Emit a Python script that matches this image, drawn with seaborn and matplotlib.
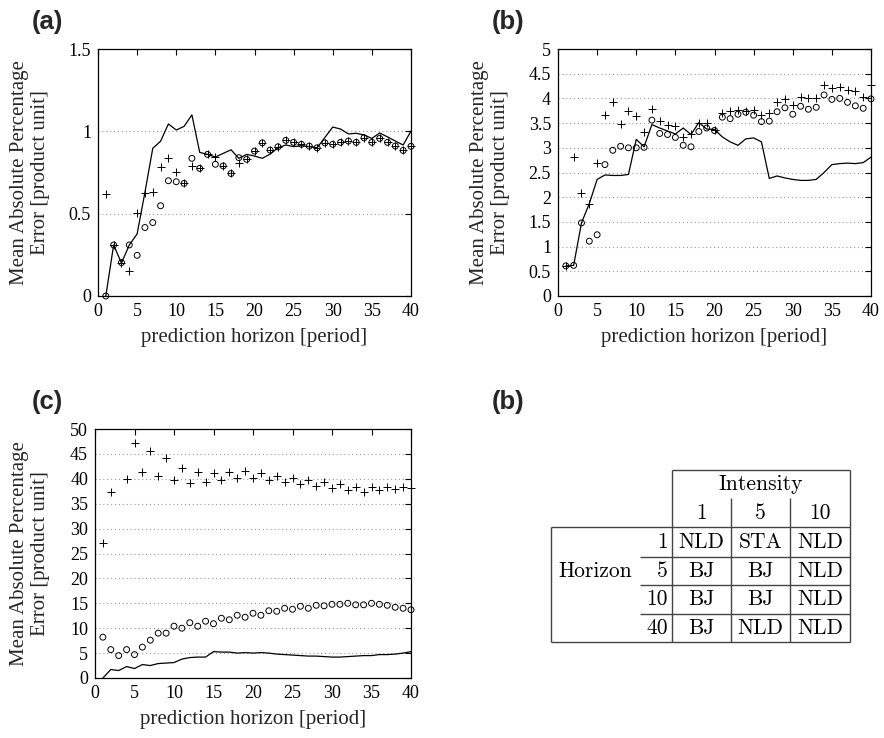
import numpy as np
import matplotlib
matplotlib.use("Agg")
import matplotlib.pyplot as plt
import seaborn as sns

# ---------------- data ----------------
horizon = list(range(1, 41))

a_line = [0.00, 0.31, 0.20, 0.31, 0.377, 0.63, 0.897, 0.94, 1.045, 1.008,
          1.03, 1.10, 0.872, 0.86, 0.844, 0.866, 0.888, 0.836, 0.86, 0.85,
          0.836, 0.862, 0.90, 0.917, 0.907, 0.913, 0.907, 0.90, 0.963, 1.026,
          1.014, 0.984, 0.988, 0.978, 0.957, 0.99, 0.966, 0.941, 0.917, 1.002]
a_circle = [0.00, 0.31, 0.203, 0.31, 0.247, 0.416, 0.446, 0.548, 0.70, 0.694,
            0.684, 0.836, 0.775, 0.86, 0.80, 0.79, 0.744, 0.84, 0.83, 0.88,
            0.93, 0.886, 0.906, 0.945, 0.933, 0.921, 0.91, 0.90, 0.93, 0.921,
            0.933, 0.941, 0.933, 0.961, 0.933, 0.957, 0.933, 0.911, 0.884, 0.909]
a_plus = [0.617, 0.31, 0.203, 0.154, 0.505, 0.627, 0.633, 0.783, 0.836, 0.755,
          0.684, 0.79, 0.775, 0.86, 0.844, 0.79, 0.744, 0.81, 0.83, 0.88,
          0.93, 0.886, 0.906, 0.945, 0.933, 0.921, 0.91, 0.90, 0.93, 0.921,
          0.933, 0.941, 0.933, 0.961, 0.933, 0.957, 0.933, 0.911, 0.884, 0.909]

b_line = [0.61, 0.62, 1.48, 1.87, 2.36, 2.45, 2.44, 2.44, 2.46, 3.17,
          3.02, 3.47, 3.40, 3.34, 3.28, 3.40, 3.27, 3.51, 3.38, 3.37,
          3.22, 3.12, 3.05, 3.18, 3.20, 3.12, 2.38, 2.43, 2.39, 2.36,
          2.34, 2.34, 2.36, 2.50, 2.66, 2.68, 2.69, 2.68, 2.70, 2.81]
b_circle = [0.61, 0.62, 1.48, 1.11, 1.24, 2.66, 2.95, 3.03, 3.00, 3.00,
            3.01, 3.56, 3.29, 3.27, 3.21, 3.05, 3.02, 3.33, 3.40, 3.35,
            3.62, 3.59, 3.68, 3.72, 3.66, 3.53, 3.54, 3.73, 3.81, 3.68,
            3.84, 3.78, 3.82, 4.07, 3.98, 4.00, 3.92, 3.85, 3.80, 3.99]
b_plus = [0.61, 2.82, 2.09, 1.87, 2.69, 3.66, 3.93, 3.49, 3.74, 3.64,
          3.32, 3.78, 3.54, 3.47, 3.44, 3.22, 3.27, 3.50, 3.50, 3.36,
          3.71, 3.74, 3.76, 3.74, 3.76, 3.66, 3.71, 3.92, 3.98, 3.86,
          4.03, 4.01, 4.00, 4.28, 4.22, 4.24, 4.17, 4.15, 4.03, 4.27]

c_line = [0.0, 1.7, 1.5, 2.3, 1.9, 2.7, 2.5, 2.9, 3.0, 3.1,
          3.8, 4.1, 4.2, 4.2, 5.3, 5.2, 5.2, 5.0, 5.1, 5.0,
          5.1, 5.0, 4.8, 4.7, 4.6, 4.5, 4.4, 4.4, 4.3, 4.2,
          4.2, 4.3, 4.4, 4.5, 4.5, 4.7, 4.7, 4.8, 5.0, 5.3]
c_circle = [8.2, 5.7, 4.5, 5.7, 4.7, 6.2, 7.6, 9.0, 9.0, 10.4,
            10.0, 11.1, 10.4, 11.4, 10.9, 12.0, 11.7, 12.6, 12.2, 13.0,
            12.6, 13.5, 13.4, 14.0, 13.8, 14.4, 14.0, 14.6, 14.5, 14.8,
            14.8, 15.0, 14.7, 14.7, 15.0, 14.8, 14.6, 14.2, 14.0, 13.7]
c_plus = [27.1, 37.3, np.nan, 39.9, 47.1, 41.3, 45.6, 40.6, 44.1, 39.8,
          42.1, 39.2, 41.3, 39.4, 41.2, 39.8, 41.4, 40.2, 41.6, 40.2,
          41.2, 39.8, 40.6, 39.4, 40.2, 39.0, 39.8, 38.6, 39.3, 38.1,
          39.0, 37.8, 38.3, 37.4, 38.3, 37.8, 38.3, 37.9, 38.4, 38.1]

x_ticks = [0, 5, 10, 15, 20, 25, 30, 35, 40]
a_yticks = [0, 0.5, 1, 1.5]
b_yticks = [0, 0.5, 1, 1.5, 2, 2.5, 3, 3.5, 4, 4.5, 5]
c_yticks = [0, 5, 10, 15, 20, 25, 30, 35, 40, 45, 50]

intensity_levels = ["1", "5", "10"]
horizon_levels = ["1", "5", "10", "40"]
table_cells = [["NLD", "STA", "NLD"],
               ["BJ", "BJ", "NLD"],
               ["BJ", "BJ", "NLD"],
               ["BJ", "NLD", "NLD"]]

# ---------------- style ----------------
sns.set_theme(style="white")
plt.rcParams["font.family"] = ["Liberation Serif", "DejaVu Serif"]
plt.rcParams["axes.edgecolor"] = "black"
plt.rcParams["axes.linewidth"] = 0.9

W, H = 884, 738
fig = plt.figure(figsize=(W / 100, H / 100), dpi=100)


def px_axes(left, top, right, bottom):
    return fig.add_axes([left / W, 1 - bottom / H, (right - left) / W, (bottom - top) / H])


def draw_panel(ax, line, circ, plus, yticks, ylim, label_x):
    sns.lineplot(x=horizon, y=line, ax=ax, color="black", linewidth=0.9)
    sns.scatterplot(x=horizon, y=circ, ax=ax, marker="o", s=18, color="black",
                    facecolors="none", edgecolor="black", linewidth=0.7,
                    clip_on=False, zorder=3)
    sns.scatterplot(x=horizon, y=plus, ax=ax, marker="+", s=26, color="black",
                    linewidth=0.7, clip_on=False, zorder=3)
    ax.set_xlim(0, 40)
    ax.set_ylim(*ylim)
    ax.set_xticks(x_ticks)
    ax.set_yticks(yticks)
    ax.set_yticklabels([f"{t:g}" for t in yticks])
    ax.tick_params(direction="in", top=True, right=True, length=4, width=0.8,
                   labelsize=13, pad=5, colors="black")
    ax.yaxis.grid(True, linestyle=(0, (1, 2.5)), color="#9a9a9a", linewidth=0.8)
    ax.xaxis.grid(False)
    ax.set_xlabel("prediction horizon [period]", fontsize=15, labelpad=6)
    ax.set_ylabel("Mean Absolute Percentage\nError [product unit]", fontsize=15,
                  linespacing=1.15)
    ax.yaxis.set_label_coords(label_x, 0.5)
    for s in ax.spines.values():
        s.set_color("black")
        s.set_linewidth(0.9)


ax_a = px_axes(98, 49, 411, 296)
draw_panel(ax_a, a_line, a_circle, a_plus, a_yticks, (0, 1.5), (50 - 98) / 313)

ax_b = px_axes(558, 49, 871, 296)
draw_panel(ax_b, b_line, b_circle, b_plus, b_yticks, (0, 5), (510 - 558) / 313)

ax_c = px_axes(95, 429, 411, 678)
draw_panel(ax_c, c_line, c_circle, c_plus, c_yticks, (0, 50), (50 - 95) / 316)

# panel labels
lab_kw = dict(fontsize=18.5, fontweight="bold", family=["Liberation Sans", "DejaVu Sans"],
              ha="left", va="center")
fig.text(32 / W, 1 - 22 / H, "(a)", **lab_kw)
fig.text(492 / W, 1 - 22 / H, "(b)", **lab_kw)
fig.text(32 / W, 1 - 402 / H, "(c)", **lab_kw)
fig.text(492 / W, 1 - 402 / H, "(b)", **lab_kw)

# ---------------- table ----------------
tab = fig.add_axes([0, 0, 1, 1], zorder=-1)
tab.set_xlim(0, W)
tab.set_ylim(H, 0)
tab.axis("off")

col_edges = [672, 731, 790, 850]
row_edges = [527, 557, 585, 614, 642]
top_y, sub_y = 470, 498
left_x, num_x = 551, 640
lkw = dict(color="#444444", linewidth=1.0, solid_capstyle="butt")

tab.plot([col_edges[0], col_edges[-1]], [top_y, top_y], **lkw)
tab.plot([left_x, col_edges[-1]], [row_edges[0], row_edges[0]], **lkw)
tab.plot([left_x, col_edges[-1]], [row_edges[-1], row_edges[-1]], **lkw)
for y in row_edges[1:-1]:
    tab.plot([num_x, col_edges[-1]], [y, y], **lkw)
tab.plot([col_edges[0], col_edges[0]], [top_y, row_edges[-1]], **lkw)
tab.plot([col_edges[-1], col_edges[-1]], [top_y, row_edges[-1]], **lkw)
for x in col_edges[1:-1]:
    tab.plot([x, x], [sub_y, row_edges[-1]], **lkw)
tab.plot([left_x, left_x], [row_edges[0], row_edges[-1]], **lkw)

tkw = dict(fontsize=15.5, family="cmr10", color="black")
tab.text((col_edges[0] + col_edges[-1]) / 2, 484, "Intensity", ha="center", va="center", **tkw)
for j, lev in enumerate(intensity_levels):
    tab.text((col_edges[j] + col_edges[j + 1]) / 2, 513, lev, ha="center", va="center", **tkw)
for i, lev in enumerate(horizon_levels):
    yc = (row_edges[i] + row_edges[i + 1]) / 2
    tab.text(668, yc, lev, ha="right", va="center", **tkw)
    for j in range(3):
        tab.text((col_edges[j] + col_edges[j + 1]) / 2, yc, table_cells[i][j],
                 ha="center", va="center", **tkw)
tab.text(595, 571, "Horizon", ha="center", va="center", **tkw)

fig.savefig("out.png", dpi=100)
